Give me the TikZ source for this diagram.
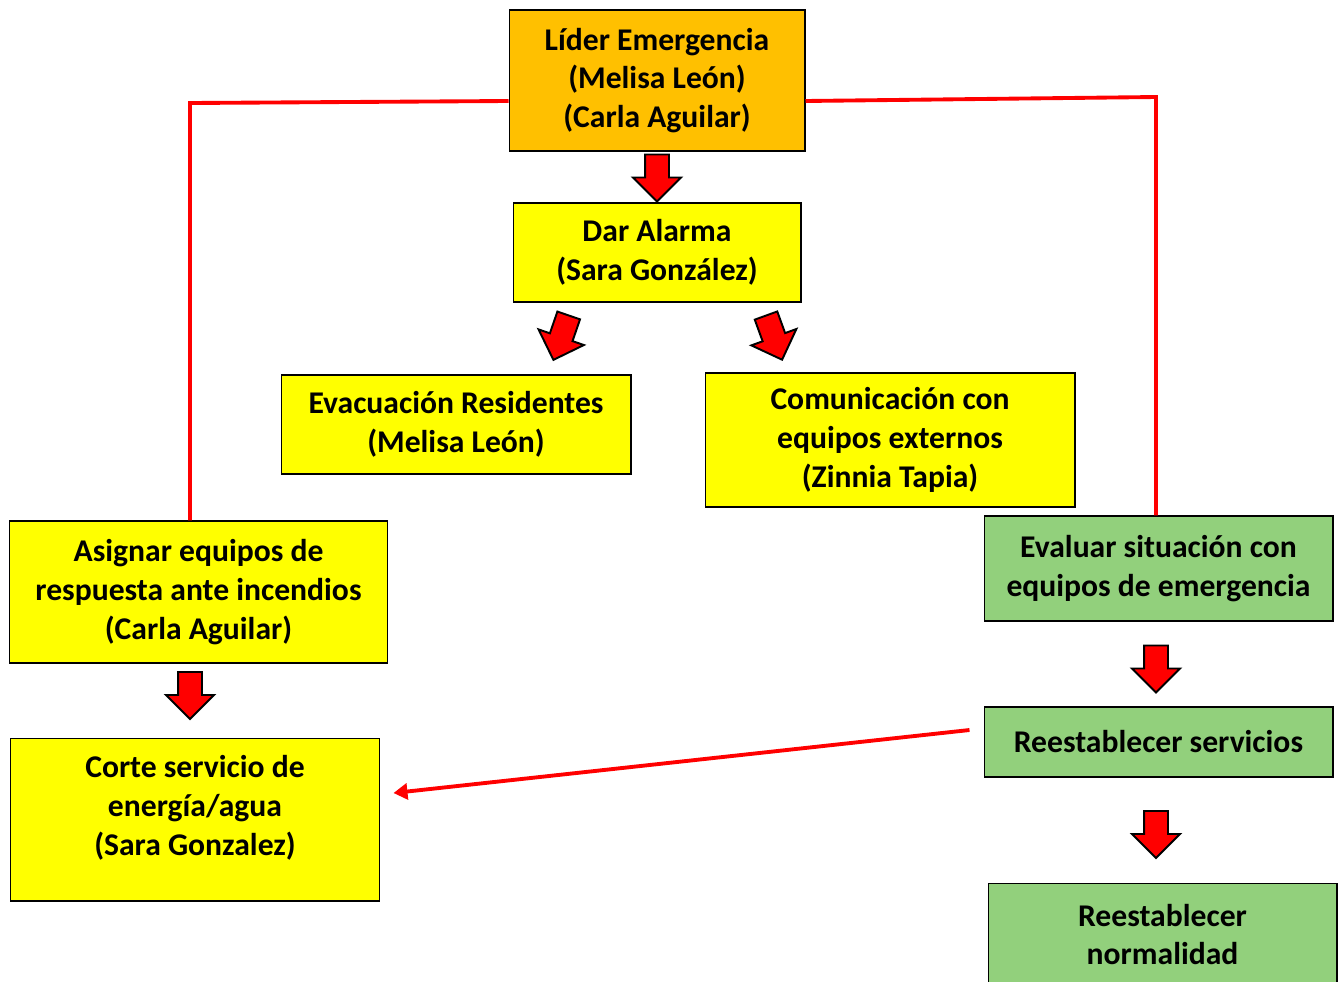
\documentclass[tikz,border=0pt]{standalone}
\usepackage{fontspec}
\setmainfont{Carlito}
\usetikzlibrary{shapes.arrows,arrows.meta,calc,positioning}

\definecolor{lidercol}{HTML}{FFC000}
\definecolor{tareacol}{HTML}{FFFF00}
\definecolor{cierrecol}{HTML}{92D07C}

\tikzset{
  caja/.style={draw=black,line width=0.6pt,align=center,inner sep=2pt,
    font=\fontsize{18}{22}\selectfont\bfseries},
  flecha/.style={single arrow,draw=black,fill=red,line width=1.1pt,
    inner xsep=0pt,inner ysep=0.22cm,single arrow head extend=0.24cm,
    minimum height=0.94cm},
  enlace/.style={red,line width=2.2pt}
}

\begin{document}
\begin{tikzpicture}[x=0.02cm,y=-0.02cm]
\useasboundingbox (0,0) rectangle (1338,981);
\clip (0,0) rectangle (1338,981);
% cajas
\node[caja,fill=lidercol,minimum width=5.92cm,minimum height=2.82cm] (lider) at (657,80.5)
  {Líder Emergencia\\(Melisa León)\\(Carla Aguilar)};
\node[caja,fill=tareacol,minimum width=5.76cm,minimum height=1.98cm] (alarma) at (657,252.5)
  {Dar Alarma\\(Sara González)};
\node[caja,fill=tareacol,minimum width=7cm,minimum height=1.98cm] (evac) at (456,424.5)
  {Evacuación Residentes\\(Melisa León)};
\node[caja,fill=tareacol,minimum width=7.4cm,minimum height=2.68cm] (comun) at (890,440)
  {Comunicación con\\equipos externos\\(Zinnia Tapia)};
\node[caja,fill=tareacol,minimum width=7.58cm,minimum height=2.84cm] (asignar) at (198.5,592)
  {Asignar equipos de\\respuesta ante incendios\\(Carla Aguilar)};
\node[caja,fill=tareacol,minimum width=7.4cm,minimum height=3.26cm,text depth=16pt] (corte) at (195,819.5)
  {Corte servicio de\\energía/agua\\(Sara Gonzalez)};
\node[caja,fill=cierrecol,minimum width=6.98cm,minimum height=2.1cm] (evaluar) at (1158.5,568.5)
  {Evaluar situación con\\equipos de emergencia};
\node[caja,fill=cierrecol,minimum width=6.98cm,minimum height=1.4cm] (servicios) at (1158.5,742)
  {Reestablecer servicios};
\node[caja,fill=cierrecol,minimum width=6.98cm,minimum height=2.4cm,text depth=10pt] (normal) at (1162.5,943)
  {Reestablecer\\normalidad};

% flechas de bloque
\node[flecha,rotate=-90] (f1) at (657,172) {};
\node[flecha,rotate=-109] (f2) at (563,332) {};
\node[flecha,rotate=-70] (f3) at (772,332) {};
\node[flecha,rotate=-90] (f4) at (190,689.5) {};
\node[flecha,rotate=-90] (f5) at (1156,663) {};
\node[flecha,rotate=-90] (f6) at (1156,828.5) {};

% lineas rojas
\coordinate (codoL) at (190,103);
\coordinate (codoR) at (1156,97);
\draw[enlace] ([yshift=-0.41cm]lider.west) -- (codoL) -- (codoL |- asignar.north);
\draw[enlace] ([yshift=-0.41cm]lider.east) -- (codoR) -- (codoR |- evaluar.north);
\draw[enlace,-{Triangle[length=0.28cm,width=0.32cm]}]
  ([xshift=-0.28cm,yshift=0.24cm]servicios.west) -- ([xshift=0.26cm,yshift=0.53cm]corte.east);
\end{tikzpicture}
\end{document}
